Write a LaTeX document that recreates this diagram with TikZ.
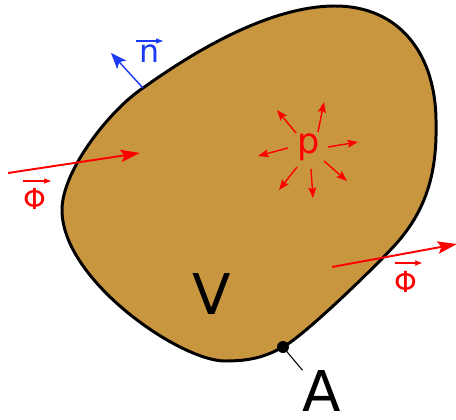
\documentclass[tikz,border=0pt]{standalone}
\usepackage{fontspec}
\setmainfont{DejaVu Sans}
\usetikzlibrary{arrows.meta}
\definecolor{bodyfill}{HTML}{C8963F}
\definecolor{fluxred}{HTML}{FF0000}
\definecolor{normalblue}{HTML}{1A3AF5}

\begin{document}
\begin{tikzpicture}[
    x=0.02cm,
    y=-0.02cm,
    body/.style={fill=bodyfill, draw=black, line width=1.7pt},
    flux/.style={draw=fluxred, line width=1.1pt, -{Stealth[length=11pt,width=7pt,inset=2pt]}},
    source/.style={draw=fluxred, line width=0.8pt, -{Stealth[length=6pt,width=4.5pt,inset=1pt]}},
    vecarrow/.style={line width=0.6pt, -{Stealth[length=4pt,width=3pt,inset=0.5pt]}},
    bigtext/.style={font=\fontsize{32}{32}\selectfont, inner sep=0pt}
]

\useasboundingbox (0,0) rectangle (456,419);

% Volume
\draw[body]
(335,6)
.. controls (400,6) and (437,55) .. (436,125)
.. controls (437,175) and (425,212) .. (395,245)
.. controls (375,267) and (305,335) .. (283,347)
.. controls (265,357) and (250,361) .. (225,361)
.. controls (180,361) and (62,280) .. (62,210)
.. controls (62,170) and (111,109) .. (143,88)
.. controls (185,58) and (265,6) .. (335,6)
-- cycle;

% Labels
\node[bigtext] (vol) at (212,294) {V};
\node[bigtext] (surf) at (322,391) {A};
\node[
    font=\fontsize{20}{20}\selectfont,
    text=fluxred,
    inner sep=0pt
] (src) at (309,147) {p};
\node[
    font=\fontsize{18}{18}\selectfont,
    text=normalblue,
    inner sep=0pt,
    anchor=base
] (nrm) at (150,62) {n};
\node[
    font=\fontsize{16.5}{16.5}\selectfont,
    text=fluxred,
    inner sep=0pt,
    anchor=base
] (phiin) at (35,209) {Φ};
\node[
    font=\fontsize{16.5}{16.5}\selectfont,
    text=fluxred,
    inner sep=0pt,
    anchor=base
] (phiout) at (406,292) {Φ};

% Vector arrows over the labels
\coordinate (nA) at (136,41);
\coordinate (nB) at (163,41);
\coordinate (phiinA) at (23,181);
\coordinate (phiinB) at (51,181);
\coordinate (phioutA) at (395,263);
\coordinate (phioutB) at (422,263);
\draw[vecarrow, normalblue] (nA) -- (nB);
\draw[vecarrow, fluxred] (phiinA) -- (phiinB);
\draw[vecarrow, fluxred] (phioutA) -- (phioutB);

% Point on the surface
\fill (283,347) circle (3.4pt) coordinate (apt);
\draw[line width=0.6pt] (apt) -- (surf.north west);

% Normal vector
\coordinate (nbase) at (143,88);
\coordinate (ntip) at (111,53);
\draw[
    normalblue,
    line width=0.8pt,
    -{Stealth[length=9pt,width=7pt,inset=2pt]}
] (nbase) -- (ntip);

% Flux through the boundary
\coordinate (inS) at (8,173);
\coordinate (inE) at (140,153);
\coordinate (outS) at (332,267);
\coordinate (outE) at (457,244);
\draw[flux] (inS) -- (inE);
\draw[flux] (outS) -- (outE);

% Source arrows
\foreach \sx/\sy/\ex/\ey in {
296/133/277/110,
318/132/324/102,
328/147/358/142,
324/161/347/181,
311/169/313/198,
297/167/279/190,
288/148/258/156
}{
    \draw[source] (\sx,\sy) -- (\ex,\ey);
}

\end{tikzpicture}
\end{document}
